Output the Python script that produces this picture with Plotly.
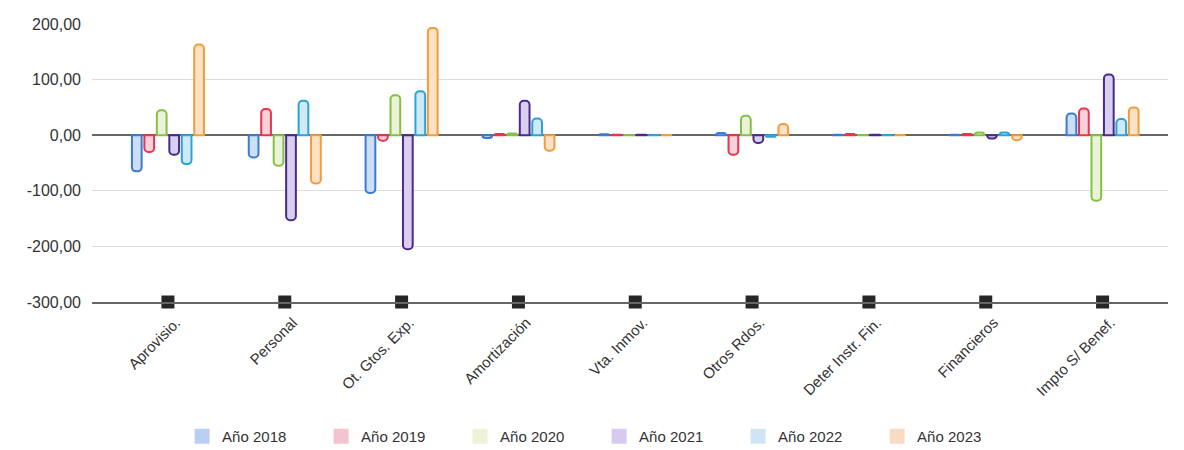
import plotly.graph_objects as go

categories = ["Aprovisio.", "Personal", "Ot. Gtos. Exp.", "Amortización", "Vta. Inmov.",
              "Otros Rdos.", "Deter Instr. Fin.", "Financieros", "Impto S/ Benef."]

anio_2018 = [-65, -40, -104, -5, 1.5, 4, 1, 1, 39]
anio_2019 = [-30, 47, -10, 2, 1, -35, 2, 2, 48]
anio_2020 = [45, -55, 72, 3, 0.5, 35, 0.5, 5, -118]
anio_2021 = [-35, -153, -205, 62, 1, -14, 1, -6, 109]
anio_2022 = [-52, 62, 79, 30, 0.5, -3, 0.5, 5, 29]
anio_2023 = [163, -87, 193, -28, 0.5, 20, 0.5, -9, 50]

markers = [-300] * len(categories)

y_ticks = [200, 100, 0, -100, -200, -300]
y_tick_text = ["200,00", "100,00", "0,00", "-100,00", "-200,00", "-300,00"]

series = [
    ("Año 2018", anio_2018, "#3a7bd5", "#cddff5", "#b9cff1"),
    ("Año 2019", anio_2019, "#e8344e", "#f8d2da", "#f5c3cf"),
    ("Año 2020", anio_2020, "#86c043", "#eaf3d9", "#eef3d6"),
    ("Año 2021", anio_2021, "#4b2a8c", "#d9cff0", "#d6cbef"),
    ("Año 2022", anio_2022, "#2aa3d6", "#d0e9f6", "#cfe5f6"),
    ("Año 2023", anio_2023, "#f39c3c", "#fbe1c6", "#f7dbc2"),
]

fig = go.Figure()
for name, vals, line_c, fill_c, legend_c in series:
    fig.add_trace(go.Bar(
        name=name, x=categories, y=vals, legendgroup=name, showlegend=False,
        marker=dict(color=fill_c, line=dict(color=line_c, width=2)),
    ))

# legend-only entries with pale square swatches
for name, vals, line_c, fill_c, legend_c in series:
    fig.add_trace(go.Scatter(
        name=name, x=[None], y=[None], mode="markers", legendgroup=name,
        marker=dict(symbol="square", size=15, color=legend_c, line=dict(width=0)),
    ))

fig.add_trace(go.Scatter(
    x=categories, y=markers, mode="markers", showlegend=False,
    marker=dict(symbol="square", size=13, color="#262626"),
    cliponaxis=False,
))

fig.update_layout(
    width=1184, height=450,
    margin=dict(l=92, r=16, t=24, b=148),
    paper_bgcolor="white", plot_bgcolor="white",
    font=dict(family="Liberation Sans, Arial, sans-serif", size=14, color="#333333"),
    barmode="group", bargap=0.36, bargroupgap=0.22,
    barcornerradius=4,
    showlegend=True,
    legend=dict(orientation="h", xref="container", yref="container",
                x=0.506, xanchor="center", y=0.03, yanchor="middle",
                font=dict(size=15, color="#333333"),
                entrywidth=94, entrywidthmode="pixels",
                traceorder="normal"),
)

fig.update_xaxes(
    type="category", range=[-0.65, 8.56],
    tickangle=-45, showline=True, linecolor="#666666", linewidth=2,
    showgrid=False, ticks="", tickfont=dict(size=15, color="#333333"),
    ticklabelshift=8, ticklabelstandoff=4,
)
fig.update_yaxes(
    range=[-300, 200], tickvals=y_ticks, ticktext=y_tick_text,
    showgrid=True, gridcolor="#dddddd", gridwidth=1,
    zeroline=True, zerolinecolor="#666666", zerolinewidth=2,
    showline=False, ticklabelstandoff=10,
    tickfont=dict(size=16, color="#333333"),
)

fig.write_html("out.html")
